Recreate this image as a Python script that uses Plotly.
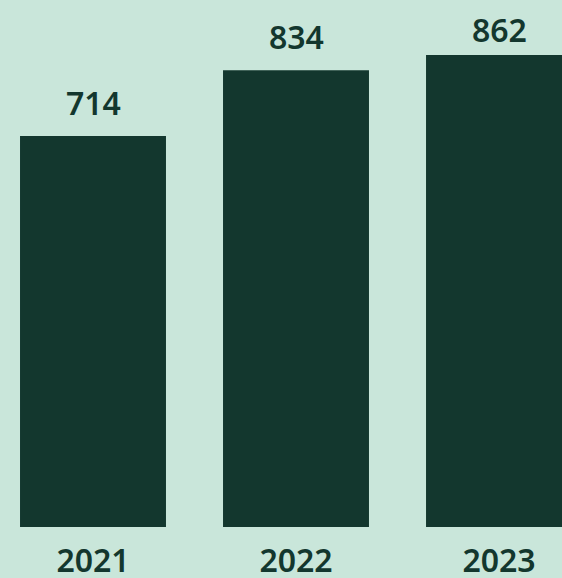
import plotly.graph_objects as go

years = ["2021", "2022", "2023"]
values = [714, 834, 862]

BG = "#c9e6da"
BAR = "#13372e"
TXT = "#13372e"
FONT = "Noto Sans"

W, H = 562, 578
MB = 51
plot_h = H - MB
y_max = 962.4
px_per_unit = plot_h / y_max

fig = go.Figure()
fig.add_trace(go.Bar(
    x=list(range(len(years))), y=values,
    marker=dict(color=BAR, line=dict(width=0)),
    width=0.719, hoverinfo="skip",
))

for i, v in enumerate(values):
    top_px = plot_h - v * px_per_unit
    center_px = max(top_px - 34, 29.5)
    shift = top_px - center_px
    fig.add_annotation(x=i, y=v, text=str(v), showarrow=False,
                       yanchor="middle", yshift=shift,
                       font=dict(family=FONT, size=32, color=TXT, weight=600))

fig.update_layout(
    width=W, height=H,
    margin=dict(l=0, r=0, t=0, b=MB),
    paper_bgcolor=BG, plot_bgcolor=BG,
    showlegend=False,
    xaxis=dict(range=[-0.4581, 2.3103], tickvals=list(range(len(years))),
               ticktext=years, showgrid=False, zeroline=False, showline=False,
               ticks="", ticklabelstandoff=12, automargin=False,
               tickfont=dict(family=FONT, size=32, color=TXT, weight=600),
               fixedrange=True),
    yaxis=dict(range=[0, y_max], visible=False, fixedrange=True),
)

fig.write_html("out.html")
